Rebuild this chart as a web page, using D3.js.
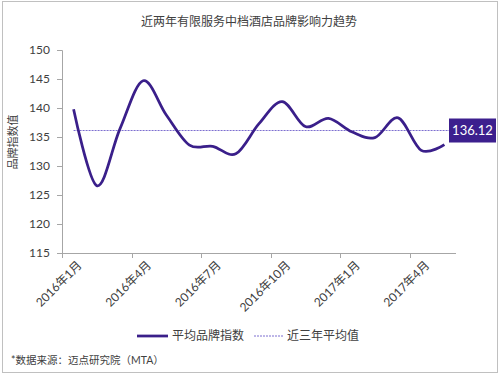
<!DOCTYPE html>
<html lang="zh">
<head>
  <meta charset="utf-8">
  <title>近两年有限服务中档酒店品牌影响力趋势</title>
  <script src="https://d3js.org/d3.v7.min.js"></script>
  <style>
    body { margin: 0; background: #fff; }
    text { font-family: Lato, "Noto Sans CJK SC", sans-serif; fill: #404040; }
  </style>
</head>
<body>
  <div id="chart"></div>
  <script>
    // 数据
    var months = ['2016年1月', '2016年2月', '2016年3月', '2016年4月', '2016年5月', '2016年6月',
      '2016年7月', '2016年8月', '2016年9月', '2016年10月', '2016年11月', '2016年12月',
      '2017年1月', '2017年2月', '2017年3月', '2017年4月', '2017年5月'];
    var brandIndex = [139.8, 126.6, 136.4, 144.7, 138.8, 133.6, 133.4, 132.1, 137.3,
      141.1, 136.8, 138.2, 135.9, 134.9, 138.3, 132.7, 133.7];
    var avgValue = 136.12;
    var yTicks = [115, 120, 125, 130, 135, 140, 145, 150];
    var xLabelIdx = [0, 3, 6, 9, 12, 15];

    var w = 500, h = 375;
    var plotL = 62, plotR = 456, plotT = 50, plotB = 253; // 绘图区

    var svg = d3.select('#chart').append('svg')
      .attr('width', w)
      .attr('height', h);

    // 外框
    svg.append('rect')
      .attr('x', 2.5).attr('y', 1.5)
      .attr('width', 495).attr('height', 371)
      .attr('fill', 'none').attr('stroke', '#c0c0c0');

    svg.append('text')
      .attr('x', 249).attr('y', 26)
      .attr('text-anchor', 'middle')
      .style('font-size', '12px')
      .text('近两年有限服务中档酒店品牌影响力趋势');

    var x = d3.scaleBand().domain(months).range([plotL, plotR]);
    var y = d3.scaleLinear().domain([115, 150]).range([plotB, plotT]);

    // y轴
    var yAxis = svg.append('g')
      .attr('transform', 'translate(' + plotL + ',0)')
      .call(d3.axisLeft(y).tickValues(yTicks).tickSize(5).tickPadding(7));
    yAxis.select('.domain').attr('stroke', '#a6a6a6');
    yAxis.selectAll('.tick line').attr('stroke', '#a6a6a6');
    yAxis.selectAll('.tick text').style('font-size', '12px').style('fill', '#404040')
      .style('font-family', 'Lato, sans-serif');

    // x轴 (刻度在分类边界)
    svg.append('line')
      .attr('x1', plotL).attr('x2', plotR)
      .attr('y1', plotB + 0.5).attr('y2', plotB + 0.5)
      .attr('stroke', '#a6a6a6');
    svg.selectAll('line.xtick')
      .data(xLabelIdx)
      .enter().append('line')
      .attr('class', 'xtick')
      .attr('x1', function (d) { return Math.round(x(months[d])) + 0.5; })
      .attr('x2', function (d) { return Math.round(x(months[d])) + 0.5; })
      .attr('y1', plotB).attr('y2', plotB + 5)
      .attr('stroke', '#a6a6a6');

    svg.selectAll('text.xlabel')
      .data(xLabelIdx)
      .enter().append('text')
      .attr('class', 'xlabel')
      .attr('text-anchor', 'end')
      .style('font-size', '12px')
      .attr('transform', function (d) {
        var cx = x(months[d]) + x.bandwidth() / 2 + 6;
        return 'translate(' + cx + ',' + (plotB + 10) + ') rotate(-45)';
      })
      .attr('dy', '0.35em')
      .text(function (d) { return months[d]; });

    // y轴标题
    svg.append('text')
      .attr('transform', 'translate(17,142) rotate(-90)')
      .attr('text-anchor', 'middle')
      .style('font-size', '11px')
      .text('品牌指数值');

    // 平均线
    svg.append('line')
      .attr('x1', x(months[0]) + x.bandwidth() / 2)
      .attr('x2', 449)
      .attr('y1', y(avgValue)).attr('y2', y(avgValue))
      .attr('stroke', '#7d6fd0')
      .attr('stroke-width', 1)
      .attr('stroke-dasharray', '2,1');

    var line = d3.line()
      .x(function (d, i) { return x(months[i]) + x.bandwidth() / 2; })
      .y(function (d) { return y(d); })
      .curve(d3.curveCardinal.tension(0));

    svg.append('path')
      .datum(brandIndex)
      .attr('d', line)
      .attr('fill', 'none')
      .attr('stroke', '#3a1f8a')
      .attr('stroke-width', 2.75)
      .attr('stroke-linejoin', 'round');

    // 平均值标签
    svg.append('rect')
      .attr('x', 449).attr('y', y(avgValue) - 12)
      .attr('width', 47).attr('height', 24)
      .attr('fill', '#3c1f8e');
    svg.append('text')
      .attr('x', 472.5).attr('y', y(avgValue))
      .attr('dy', '0.36em')
      .attr('text-anchor', 'middle')
      .style('font-size', '13px')
      .style('fill', '#fff')
      .text(avgValue.toFixed(2));

    // 图例
    var lg = svg.append('g').attr('transform', 'translate(0,336)');
    lg.append('line').attr('x1', 137).attr('x2', 168).attr('y1', 0).attr('y2', 0)
      .attr('stroke', '#3a1f8a').attr('stroke-width', 2.75);
    lg.append('text').attr('x', 172).attr('dy', '0.36em').style('font-size', '12px').text('平均品牌指数');
    lg.append('line').attr('x1', 254).attr('x2', 284).attr('y1', 0).attr('y2', 0)
      .attr('stroke', '#7d6fd0').attr('stroke-dasharray', '2,1');
    lg.append('text').attr('x', 287).attr('dy', '0.36em').style('font-size', '12px').text('近三年平均值');

    svg.append('text')
      .attr('x', 11).attr('y', 360)
      .attr('dy', '0.35em')
      .style('font-size', '10.5px')
      .text('*数据来源：迈点研究院（MTA）');
  </script>
</body>
</html>
